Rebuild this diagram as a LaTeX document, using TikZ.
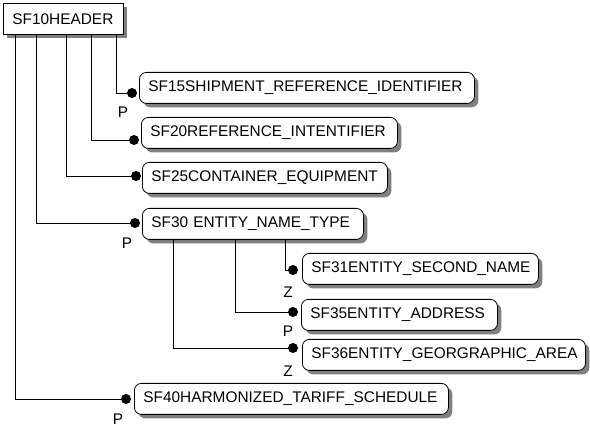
\documentclass[tikz,border=0pt]{standalone}
\usepackage{fontspec}
\setmainfont{Liberation Sans}
\usetikzlibrary{shadows}
\begin{document}
\begin{tikzpicture}[x=1pt,y=-1pt,
  every node/.style={font=\fontsize{15.4}{18}\selectfont},
  boxshadow/.style={drop shadow={shadow xshift=4pt, shadow yshift=-4pt, fill=black!50, opacity=1}},
  hdrbox/.style={draw, line width=0.8pt, fill=white, anchor=north west, inner xsep=9pt, inner ysep=0pt, align=left, boxshadow},
  ent/.style={draw, line width=0.8pt, fill=white, rounded corners=7pt, anchor=north west, inner xsep=9pt, inner ysep=0pt, align=left, boxshadow},
  link/.style={line width=0.8pt},
  dotmark/.style={circle, fill=black, inner sep=0pt, minimum size=10pt},
  card/.style={inner sep=0pt}
]
\useasboundingbox (0,0) rectangle (590,427);

\node[hdrbox, minimum width=120pt, minimum height=31pt, text width=102pt] (hdr) at (3,3) {SF10HEADER};

\node[ent, minimum width=335pt, minimum height=31pt, text width=317pt] (sf15) at (139,72) {SF15SHIPMENT\_REFERENCE\_IDENTIFIER};
\node[ent, minimum width=256pt, minimum height=31pt, text width=238pt] (sf20) at (141,117) {SF20REFERENCE\_INTENTIFIER};
\node[ent, minimum width=245pt, minimum height=31pt, text width=227pt] (sf25) at (142,162) {SF25CONTAINER\_EQUIPMENT};
\node[ent, minimum width=221pt, minimum height=31pt, text width=203pt] (sf30) at (142,208) {SF30 ENTITY\_NAME\_TYPE};
\node[ent, minimum width=236pt, minimum height=31pt, text width=218pt] (sf31) at (302,253) {SF31ENTITY\_SECOND\_NAME};
\node[ent, minimum width=196pt, minimum height=31pt, text width=178pt] (sf35) at (301,299) {SF35ENTITY\_ADDRESS};
\node[ent, minimum width=283pt, minimum height=31pt, text width=269pt, inner xsep=7pt] (sf36) at (302,339) {\hspace{2pt}SF36ENTITY\_GEORGRAPHIC\_AREA};
\node[ent, minimum width=314pt, minimum height=31pt, text width=296pt] (sf40) at (134,383) {SF40HARMONIZED\_TARIFF\_SCHEDULE};

\coordinate (d15) at (132,93);
\coordinate (d20) at (134,140);
\coordinate (d25) at (136,176);
\coordinate (d30) at (135,223);
\coordinate (d31) at (293,270);
\coordinate (d35) at (293,312);
\coordinate (d36) at (293,348);
\coordinate (d40) at (126,399);

\draw[link] ([xshift=113pt]hdr.south west) |- (d15);
\draw[link] ([xshift=88pt]hdr.south west) |- (d20);
\draw[link] ([xshift=63pt]hdr.south west) |- (d25);
\draw[link] ([xshift=33pt]hdr.south west) |- (d30);
\draw[link] ([xshift=12pt]hdr.south west) |- (d40);
\draw[link] ([xshift=143pt]sf30.south west) |- (d31);
\draw[link] ([xshift=93pt]sf30.south west) |- (d35);
\draw[link] ([xshift=31pt]sf30.south west) |- (d36);

\foreach \d in {d15,d20,d25,d30,d31,d35,d36,d40}
  \node[dotmark] (m\d) at (\d) {};

\node[card] (c15) at (123,112) {P};
\node[card] (c30) at (127,243) {P};
\node[card] (c31) at (288,292) {Z};
\node[card] (c35) at (288,331) {P};
\node[card] (c36) at (288,371) {Z};
\node[card] (c40) at (118,419) {P};
\end{tikzpicture}
\end{document}
